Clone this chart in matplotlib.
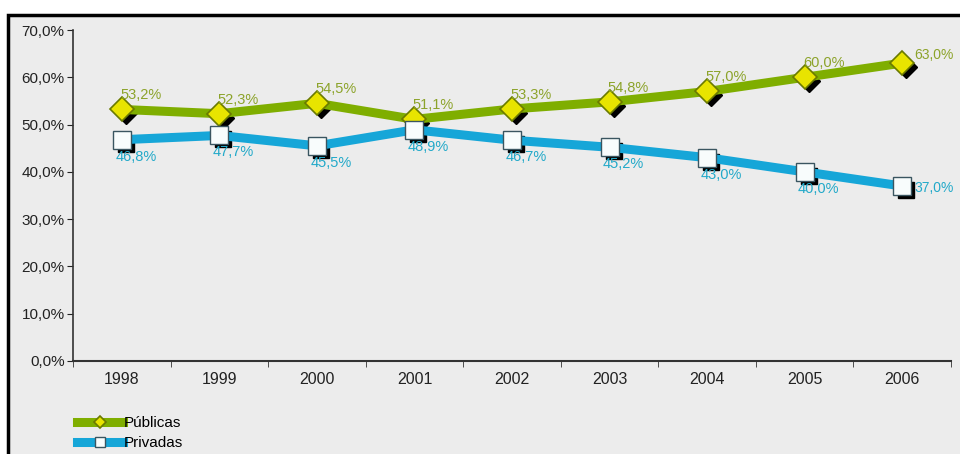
import matplotlib.pyplot as plt
import matplotlib.transforms as mtransforms
from matplotlib.patches import Rectangle
from matplotlib.ticker import FixedLocator, FuncFormatter

plt.rcParams['font.family'] = ['Liberation Sans', 'DejaVu Sans']

anos = ['1998', '1999', '2000', '2001', '2002', '2003', '2004', '2005', '2006']
publicas = [53.2, 52.3, 54.5, 51.1, 53.3, 54.8, 57.0, 60.0, 63.0]
privadas = [46.8, 47.7, 45.5, 48.9, 46.7, 45.2, 43.0, 40.0, 37.0]

verde = '#7fae00'
verde_txt = '#8ca32a'
azul = '#16a6d8'
azul_txt = '#22a9c9'

fig = plt.figure(figsize=(9.6, 4.54), dpi=100)
fig.patch.set_facecolor('white')
fig.patches.append(Rectangle((8 / 960, -0.1), 1.1, (454 - 15) / 454 + 0.1,
                             transform=fig.transFigure, facecolor='#ececec',
                             edgecolor='black', linewidth=2.5, zorder=-10))

ax = fig.add_axes([73 / 960, 1 - 361 / 454, (951 - 73) / 960, (361 - 30) / 454])
ax.set_facecolor('none')
x = list(range(len(anos)))

sombra = mtransforms.offset_copy(ax.transData, fig=fig, x=4, y=-4, units='dots')

ax.plot(x, publicas, ls='none', marker='D', ms=11, color='black', transform=sombra, zorder=3)
ax.plot(x, privadas, ls='none', marker='s', ms=12, color='black', transform=sombra, zorder=3)
lp, = ax.plot(x, publicas, color=verde, lw=6.5, marker='D', ms=12,
              mfc='#e8e400', mec='#6a7a00', mew=1.2, zorder=4, label='Públicas')
lv, = ax.plot(x, privadas, color=azul, lw=6.5, marker='s', ms=13,
              mfc='#f8fcfc', mec='#3a5560', mew=1.0, zorder=4, label='Privadas')

def fmt(v):
    return f'{v:.1f}%'.replace('.', ',')

for i, v in enumerate(publicas):
    if i == len(publicas) - 1:
        ax.annotate(fmt(v), (i, v), xytext=(12, 8), textcoords='offset pixels',
                    color=verde_txt, fontsize=10, ha='left', va='center', zorder=5)
    else:
        ax.annotate(fmt(v), (i, v), xytext=(19, 7), textcoords='offset pixels',
                    color=verde_txt, fontsize=10.5, ha='center', va='bottom', zorder=5)
for i, v in enumerate(privadas):
    if i == len(privadas) - 1:
        ax.annotate(fmt(v), (i, v), xytext=(12, -2), textcoords='offset pixels',
                    color=azul_txt, fontsize=10, ha='left', va='center', zorder=5)
    else:
        ax.annotate(fmt(v), (i, v), xytext=(14, -10), textcoords='offset pixels',
                    color=azul_txt, fontsize=10.5, ha='center', va='top', zorder=5)

ax.set_xlim(-0.5, len(anos) - 0.5)
ax.set_ylim(0, 70)
ax.set_yticks(range(0, 71, 10))
ax.yaxis.set_major_formatter(FuncFormatter(lambda v, p: f'{v:.1f}%'.replace('.', ',')))
ax.set_xticks(x)
ax.set_xticklabels(anos)
ax.xaxis.set_minor_locator(FixedLocator([i + 0.5 for i in range(-1, len(anos))]))
ax.tick_params(axis='x', which='major', length=0, pad=8, labelsize=11.5, colors='#222222')
ax.tick_params(axis='x', which='minor', length=4, direction='out', color='#333333')
ax.tick_params(axis='y', length=4, direction='out', labelsize=11, colors='#222222', pad=2)
for s in ['top', 'right']:
    ax.spines[s].set_visible(False)
ax.spines['left'].set_color('#333333')
ax.spines['bottom'].set_color('#333333')
ax.spines['left'].set_linewidth(1.2)
ax.spines['bottom'].set_linewidth(1.5)

fig.legend(handles=[lp, lv], loc='lower left', bbox_to_anchor=(71 / 960, -0.005),
           frameon=False, fontsize=11, handlelength=3.0, handletextpad=0.05,
           labelspacing=0.4, borderaxespad=0.0, markerscale=0.55)

fig.savefig('out.png', dpi=100)
